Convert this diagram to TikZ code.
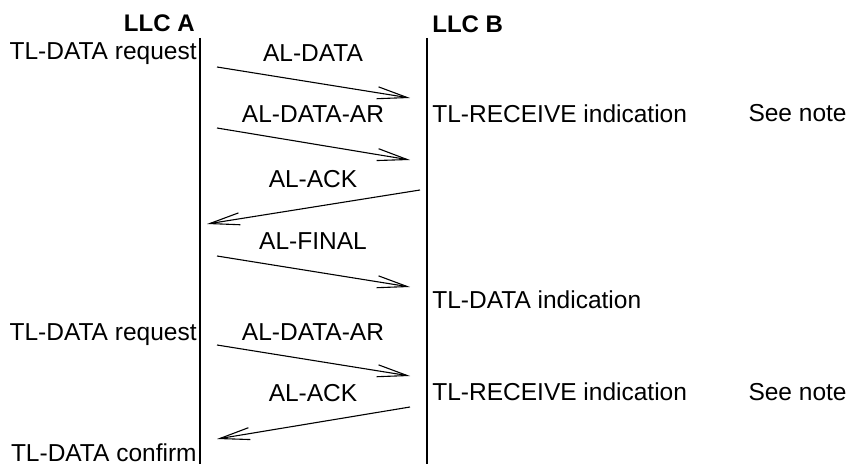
\documentclass[tikz,border=0pt]{standalone}
\usepackage{fontspec}
\setmainfont{Liberation Sans}
\usetikzlibrary{positioning,arrows.meta}
\tikzset{
  entity/.style={font=\fontsize{12}{14}\selectfont\bfseries, inner sep=0pt},
  prim/.style={font=\fontsize{12.25}{14}\selectfont, inner sep=0pt},
  pdu/.style={font=\fontsize{12.25}{14}\selectfont, inner sep=0pt, anchor=base},
  lifeline/.style={line width=1pt},
  msg/.style={line width=0.55pt, -{Straight Barb[length=15pt, width=6pt, line width=0.55pt]}},
}

\begin{document}
\begin{tikzpicture}[x=0.5pt, y=-0.5pt]
  \useasboundingbox (0,0) rectangle (850,464);
  % lifelines
  \coordinate (topA) at (200,38);
  \coordinate (botA) at (200,464);
  \coordinate (topB) at (427,38);
  \coordinate (botB) at (427,464);
  \draw[lifeline] (topA) -- (botA);
  \draw[lifeline] (topB) -- (botB);
  \node[entity, anchor=base east] (llcA) at (195,32) {LLC A};
  \node[entity, anchor=base west] (llcB) at (432,33) {LLC B};

  % service primitives
  \node[prim, anchor=base east] (req1) at (197,60) {TL-DATA request};
  \node[prim, anchor=base west] (rcv1) at (432,123) {TL-RECEIVE indication};
  \node[prim, anchor=base east] (note1) at (847,122) {See note};
  \node[prim, anchor=base west] (ind) at (432,308) {TL-DATA indication};
  \node[prim, anchor=base east] (req2) at (197,340) {TL-DATA request};
  \node[prim, anchor=base west] (rcv2) at (432,400) {TL-RECEIVE indication};
  \node[prim, anchor=base east] (note2) at (847,400) {See note};
  \node[prim, anchor=base east] (conf) at (197,461) {TL-DATA confirm};

  % message ends
  \coordinate (s1) at (217,67);  \coordinate (e1) at (410,98);
  \coordinate (s2) at (217,128); \coordinate (e2) at (410,160);
  \coordinate (s3) at (420,190); \coordinate (e3) at (207,224);
  \coordinate (s4) at (217,256); \coordinate (e4) at (410,287);
  \coordinate (s5) at (217,345); \coordinate (e5) at (410,376);
  \coordinate (s6) at (410,407); \coordinate (e6) at (217,439);

  % messages
  \node[pdu] (m1) at (313,62) {AL-DATA};
  \node[pdu] (m2) at (313,123) {AL-DATA-AR};
  \node[pdu] (m3) at (313,188) {AL-ACK};
  \node[pdu] (m4) at (313,250) {AL-FINAL};
  \node[pdu] (m5) at (313,340) {AL-DATA-AR};
  \node[pdu] (m6) at (313,401) {AL-ACK};
  \foreach \i in {1,...,6}
    \draw[msg] (s\i) -- (e\i);
\end{tikzpicture}
\end{document}
